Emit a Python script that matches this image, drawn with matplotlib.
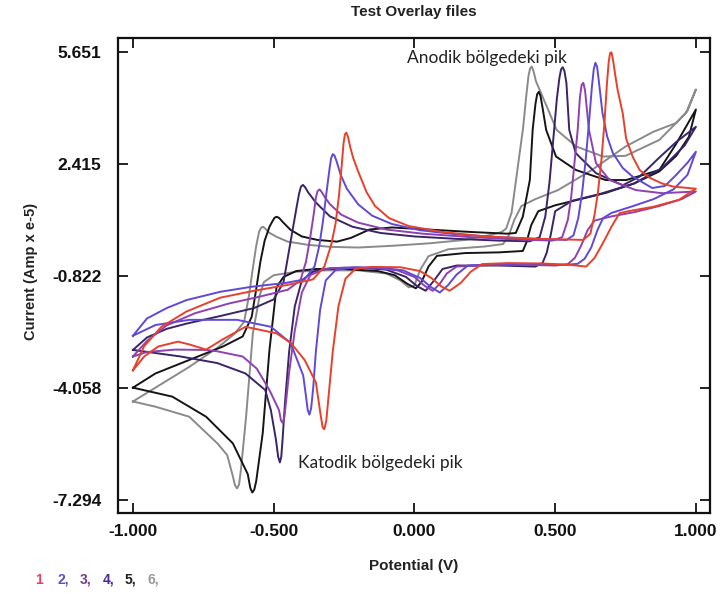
import matplotlib
matplotlib.use("Agg")
import matplotlib.pyplot as plt

# six voltammograms, each a closed loop (E in V, I in Amp x e-5): -1 V -> +1 V -> -1 V
curve_1 = [(-1.000, -3.55), (-0.960, -2.85), (-0.900, -2.30), (-0.810, -1.85), (-0.690, -1.45),
           (-0.570, -1.25), (-0.450, -1.08), (-0.360, -0.92), (-0.320, -0.55), (-0.295, 0.10),
           (-0.280, 0.70), (-0.268, 1.50), (-0.258, 2.40), (-0.252, 3.00), (-0.247, 3.27),
           (-0.242, 3.32), (-0.236, 3.20), (-0.228, 2.90), (-0.218, 2.60), (-0.200, 2.20),
           (-0.170, 1.60), (-0.140, 1.20), (-0.090, 0.85), (-0.020, 0.62), (0.100, 0.45),
           (0.250, 0.32), (0.450, 0.25), (0.600, 0.22), (0.625, 0.40), (0.640, 0.95),
           (0.652, 1.60), (0.664, 2.50), (0.675, 3.60), (0.684, 4.75), (0.690, 5.35),
           (0.695, 5.62), (0.700, 5.64), (0.706, 5.40), (0.714, 4.95), (0.722, 4.55),
           (0.740, 3.88), (0.752, 3.15), (0.775, 2.63), (0.800, 2.24), (0.835, 2.02),
           (0.880, 1.85), (0.920, 1.76), (1.000, 1.70),
           (0.940, 1.38), (0.850, 1.18), (0.760, 1.05), (0.728, 0.99), (0.700, 0.60),
           (0.669, 0.12), (0.640, -0.30), (0.610, -0.55), (0.550, -0.50), (0.450, -0.46),
           (0.330, -0.45), (0.240, -0.48), (0.200, -0.70), (0.165, -1.02), (0.125, -1.25),
           (0.095, -1.12), (0.060, -0.88), (0.020, -0.68), (-0.050, -0.57), (-0.150, -0.56),
           (-0.210, -0.62), (-0.245, -0.90), (-0.270, -1.70), (-0.290, -3.00), (-0.305, -4.30),
           (-0.313, -5.00), (-0.320, -5.25), (-0.326, -5.20), (-0.333, -4.85), (-0.350, -3.90),
           (-0.390, -3.25), (-0.440, -2.75), (-0.490, -2.48), (-0.600, -2.29), (-0.680, -2.65),
           (-0.740, -2.95), (-0.800, -2.80), (-0.840, -2.72), (-0.910, -2.86), (-0.960, -3.15),
           (-1.000, -3.55)]

curve_2 = [(-1.000, -2.55), (-0.950, -2.05), (-0.880, -1.75), (-0.810, -1.52), (-0.690, -1.28),
           (-0.575, -1.13), (-0.455, -1.02), (-0.390, -0.92), (-0.355, -0.55), (-0.338, 0.05),
           (-0.325, 0.75), (-0.313, 1.55), (-0.302, 2.25), (-0.296, 2.58), (-0.290, 2.70),
           (-0.284, 2.66), (-0.276, 2.48), (-0.262, 2.10), (-0.240, 1.70), (-0.200, 1.25),
           (-0.150, 0.92), (-0.080, 0.68), (0.020, 0.50), (0.150, 0.38), (0.300, 0.30),
           (0.450, 0.24), (0.540, 0.22), (0.565, 0.35), (0.582, 0.85), (0.596, 1.60),
           (0.608, 2.50), (0.620, 3.60), (0.630, 4.60), (0.637, 5.15), (0.643, 5.34),
           (0.649, 5.22), (0.656, 4.75), (0.668, 3.89), (0.685, 3.20), (0.705, 2.73),
           (0.740, 2.30), (0.775, 2.05), (0.845, 1.72), (0.890, 1.78), (0.930, 2.10),
           (0.970, 2.45), (1.000, 2.77),
           (0.970, 2.10), (0.920, 1.68), (0.850, 1.40), (0.770, 1.18), (0.700, 1.00),
           (0.670, 0.85), (0.650, 0.50), (0.628, 0.00), (0.605, -0.32), (0.580, -0.47),
           (0.540, -0.50), (0.420, -0.48), (0.300, -0.48), (0.190, -0.52), (0.150, -0.78),
           (0.118, -1.10), (0.090, -1.30), (0.060, -1.15), (0.020, -0.88), (-0.040, -0.66),
           (-0.120, -0.58), (-0.220, -0.58), (-0.280, -0.65), (-0.315, -0.95), (-0.335, -1.80),
           (-0.350, -3.00), (-0.360, -4.10), (-0.367, -4.65), (-0.373, -4.83), (-0.379, -4.70),
           (-0.386, -4.25), (-0.395, -3.70), (-0.440, -2.76), (-0.510, -2.29), (-0.630, -2.09),
           (-0.800, -2.09), (-0.920, -2.24), (-1.000, -2.55)]

curve_3 = [(-1.000, -3.15), (-0.950, -2.70), (-0.880, -2.25), (-0.780, -1.90), (-0.660, -1.62),
           (-0.550, -1.42), (-0.450, -1.22), (-0.405, -0.95), (-0.385, -0.40), (-0.370, 0.30),
           (-0.358, 0.95), (-0.350, 1.45), (-0.344, 1.63), (-0.337, 1.68), (-0.329, 1.60),
           (-0.318, 1.45), (-0.300, 1.25), (-0.260, 0.95), (-0.200, 0.72), (-0.100, 0.52),
           (0.030, 0.40), (0.200, 0.30), (0.350, 0.24), (0.490, 0.20), (0.525, 0.30),
           (0.545, 0.80), (0.557, 1.47), (0.568, 2.40), (0.580, 3.40), (0.588, 4.35),
           (0.594, 4.70), (0.600, 4.76), (0.606, 4.55), (0.612, 4.05), (0.620, 3.40),
           (0.645, 2.44), (0.693, 1.95), (0.787, 1.66), (0.880, 1.57), (1.000, 1.62),
           (0.950, 1.40), (0.870, 1.20), (0.780, 1.02), (0.700, 0.90), (0.640, 0.78),
           (0.615, 0.50), (0.592, 0.05), (0.570, -0.30), (0.545, -0.48), (0.500, -0.52),
           (0.400, -0.50), (0.280, -0.50), (0.150, -0.55), (0.115, -0.75), (0.090, -1.05),
           (0.065, -1.25), (0.035, -1.10), (0.000, -0.85), (-0.060, -0.66), (-0.150, -0.58),
           (-0.250, -0.58), (-0.320, -0.62), (-0.370, -0.80), (-0.400, -1.30), (-0.425, -2.40),
           (-0.445, -3.60), (-0.456, -4.45), (-0.462, -4.90), (-0.468, -5.07), (-0.474, -5.00),
           (-0.481, -4.70), (-0.515, -4.12), (-0.560, -3.50), (-0.610, -3.15), (-0.700, -3.00),
           (-0.740, -2.96), (-0.850, -2.95), (-0.950, -3.02), (-1.000, -3.15)]

curve_4 = [(-1.000, -2.96), (-0.950, -2.60), (-0.880, -2.35), (-0.810, -2.20), (-0.690, -1.98),
           (-0.570, -1.75), (-0.500, -1.50), (-0.465, -1.00), (-0.450, -0.30), (-0.435, 0.40),
           (-0.420, 1.10), (-0.410, 1.55), (-0.403, 1.76), (-0.396, 1.81), (-0.388, 1.74),
           (-0.378, 1.60), (-0.350, 1.30), (-0.300, 0.90), (-0.220, 0.60), (-0.120, 0.42),
           (0.000, 0.32), (0.150, 0.25), (0.300, 0.20), (0.410, 0.18), (0.445, 0.30),
           (0.465, 0.90), (0.480, 1.90), (0.493, 3.10), (0.506, 4.30), (0.515, 4.90),
           (0.521, 5.15), (0.527, 5.21), (0.533, 5.10), (0.540, 4.75), (0.550, 3.40),
           (0.573, 2.73), (0.645, 2.15), (0.740, 1.80), (0.800, 2.05), (0.870, 2.60),
           (0.930, 3.05), (1.000, 3.49),
           (0.960, 2.95), (0.880, 2.30), (0.780, 1.85), (0.660, 1.55), (0.560, 1.35),
           (0.500, 1.05), (0.485, 0.40), (0.470, -0.15), (0.455, -0.45), (0.430, -0.55),
           (0.300, -0.52), (0.150, -0.52), (0.100, -0.62), (0.070, -0.95), (0.040, -1.25),
           (0.010, -1.12), (-0.030, -0.85), (-0.100, -0.64), (-0.200, -0.58), (-0.300, -0.60),
           (-0.360, -0.70), (-0.400, -0.95), (-0.425, -1.70), (-0.445, -3.00), (-0.460, -4.50),
           (-0.468, -5.50), (-0.473, -6.05), (-0.478, -6.21), (-0.484, -6.05), (-0.492, -5.55),
           (-0.510, -4.70), (-0.530, -4.12), (-0.600, -3.64), (-0.700, -3.34), (-0.830, -3.15),
           (-1.000, -2.96)]

curve_5 = [(-1.000, -4.05), (-0.920, -3.64), (-0.800, -3.25), (-0.680, -2.86), (-0.610, -2.57),
           (-0.578, -2.00), (-0.562, -1.20), (-0.547, -0.40), (-0.532, 0.20), (-0.515, 0.60),
           (-0.505, 0.75), (-0.497, 0.86), (-0.489, 0.89), (-0.480, 0.85), (-0.468, 0.74),
           (-0.440, 0.51), (-0.400, 0.32), (-0.345, 0.22), (-0.275, 0.17), (-0.225, 0.28),
           (-0.160, 0.52), (-0.080, 0.58), (0.050, 0.52), (0.200, 0.45), (0.330, 0.40),
           (0.360, 0.42), (0.385, 0.89), (0.410, 1.95), (0.420, 3.40), (0.430, 4.15),
           (0.436, 4.43), (0.442, 4.50), (0.448, 4.38), (0.456, 4.00), (0.468, 3.40),
           (0.503, 2.63), (0.574, 2.24), (0.680, 1.95), (0.752, 1.95), (0.870, 2.24),
           (0.930, 3.00), (1.000, 3.99),
           (0.975, 3.20), (0.930, 2.65), (0.870, 2.20), (0.780, 1.85), (0.680, 1.58),
           (0.580, 1.38), (0.500, 1.22), (0.440, 1.05), (0.415, 0.65), (0.398, 0.15),
           (0.385, -0.10), (0.300, -0.14), (0.180, -0.16), (0.080, -0.24), (0.050, -0.55),
           (0.025, -1.00), (0.005, -1.18), (-0.025, -1.05), (-0.070, -0.80), (-0.130, -0.68),
           (-0.250, -0.62), (-0.350, -0.62), (-0.420, -0.68), (-0.465, -0.85), (-0.490, -1.15),
           (-0.515, -2.96), (-0.539, -5.37), (-0.562, -6.75), (-0.569, -7.00), (-0.576, -7.08),
           (-0.583, -6.95), (-0.592, -6.55), (-0.645, -5.66), (-0.740, -4.89), (-0.860, -4.31),
           (-1.000, -4.05)]

curve_6 = [(-1.000, -4.45), (-0.900, -3.95), (-0.800, -3.45), (-0.700, -2.90), (-0.640, -2.50),
           (-0.605, -2.15), (-0.588, -1.40), (-0.574, -0.60), (-0.562, 0.05), (-0.552, 0.45),
           (-0.545, 0.57), (-0.538, 0.60), (-0.530, 0.55), (-0.518, 0.44), (-0.490, 0.31),
           (-0.450, 0.17), (-0.380, 0.08), (-0.300, 0.02), (-0.200, 0.00), (-0.080, 0.05),
           (0.050, 0.12), (0.180, 0.22), (0.280, 0.38), (0.310, 0.45), (0.326, 0.55),
           (0.345, 1.00), (0.361, 1.95), (0.375, 2.80), (0.386, 3.45), (0.397, 4.36),
           (0.405, 4.95), (0.411, 5.18), (0.417, 5.23), (0.423, 5.10), (0.432, 4.80),
           (0.470, 4.08), (0.505, 3.40), (0.575, 2.92), (0.670, 2.63), (0.750, 2.65),
           (0.870, 3.11), (0.965, 3.89), (1.000, 4.57),
           (0.970, 3.95), (0.930, 3.60), (0.850, 3.35), (0.750, 2.92), (0.630, 2.24),
           (0.510, 1.66), (0.430, 1.40), (0.380, 1.20), (0.355, 0.80), (0.335, 0.35),
           (0.315, 0.10), (0.250, 0.03), (0.120, -0.05), (0.050, -0.25), (0.020, -0.65),
           (0.000, -1.10), (-0.020, -1.15), (-0.050, -0.95), (-0.100, -0.75), (-0.200, -0.66),
           (-0.320, -0.66), (-0.420, -0.70), (-0.500, -0.80), (-0.535, -1.00), (-0.550, -1.40),
           (-0.574, -2.48), (-0.598, -4.89), (-0.616, -6.40), (-0.623, -6.85), (-0.630, -6.96),
           (-0.637, -6.88), (-0.646, -6.58), (-0.665, -6.00), (-0.700, -5.66), (-0.800, -4.89),
           (-0.920, -4.60), (-1.000, -4.45)]

line_colors = ['#e8402a', '#6048d8', '#9040b0', '#3a2468', '#151515', '#8a8a8a']
legend_labels = ['1', '2,', '3,', '4,', '5,', '6,']
legend_colors = ['#e8405a', '#5850c8', '#7a3a8a', '#4a2a98', '#202020', '#9a9a9a']

x_ticks = [-1.0, -0.5, 0.0, 0.5, 1.0]
y_ticks = [-7.294, -4.058, -0.822, 2.415, 5.651]


def draw():
    plt.rcParams['font.family'] = ['Liberation Sans', 'DejaVu Sans']
    fig = plt.figure(figsize=(7.2, 5.94), dpi=100)
    ax = fig.add_axes([0.1639, 0.1364, 0.8222, 0.7997])

    curves = [curve_1, curve_2, curve_3, curve_4, curve_5, curve_6]
    # last file first so the red one ends up on top
    for i in reversed(range(len(curves))):
        e, cur = zip(*curves[i])
        ax.plot(e, cur, color=line_colors[i], linewidth=1.4, solid_joinstyle='round')

    ax.set_xlim(-1.053, 1.05)
    ax.set_ylim(-7.672, 6.057)
    ax.set_xticks(x_ticks)
    ax.set_xticklabels(['%.3f' % v for v in x_ticks])
    ax.set_yticks(y_ticks)
    ax.set_yticklabels(['%.3f' % v for v in y_ticks])
    ax.tick_params(direction='in', length=7, width=1.3, top=True, right=True,
                   labelsize=12.5, colors='#111111')
    ax.tick_params(axis='y', pad=12)
    ax.tick_params(axis='x', pad=8)
    for lbl in ax.get_xticklabels() + ax.get_yticklabels():
        lbl.set_fontweight('bold')
    for sp in ax.spines.values():
        sp.set_linewidth(1.6)
        sp.set_color('#111111')

    ax.set_xlabel('Potential (V)', fontsize=11, fontweight='bold', color='#222222')
    ax.xaxis.set_label_coords(0.5, -0.097)
    ax.set_ylabel('Current (Amp x e-5)', fontsize=10.5, fontweight='bold', color='#222222')
    ax.yaxis.set_label_coords(-0.135, 0.508)

    fig.text(414 / 720, 1 - 12 / 594, 'Test Overlay files', ha='center', va='center',
             fontsize=11, fontweight='bold', color='#222222')

    ax.text(0.488, 0.958, 'Anodik bölgedeki pik', transform=ax.transAxes,
            family=['Lato', 'DejaVu Sans'], fontsize=12.5, color='#222222',
            ha='left', va='center')
    ax.text(0.304, 0.105, 'Katodik bölgedeki pik', transform=ax.transAxes,
            family=['Lato', 'DejaVu Sans'], fontsize=12.5, color='#222222',
            ha='left', va='center')

    # file legend under the plot
    legend_x = [35, 57, 80, 103, 125, 147]
    for x, lab, col in zip(legend_x, legend_labels, legend_colors):
        fig.text(x / 720, 1 - 580 / 594, lab, color=col, fontsize=10,
                 fontweight='bold', ha='left', va='center')

    fig.savefig('out.png', dpi=100)


if __name__ == '__main__':
    draw()
